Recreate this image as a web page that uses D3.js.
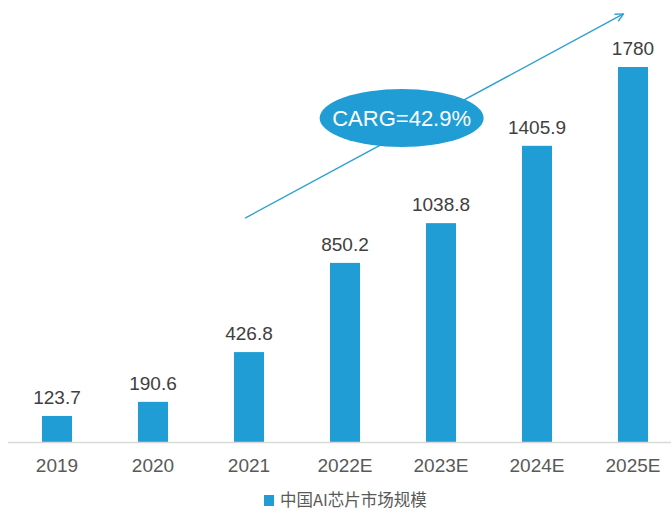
<!DOCTYPE html>
<html>
<head>
<meta charset="utf-8">
<script src="https://cdnjs.cloudflare.com/ajax/libs/d3/7.8.5/d3.min.js"></script>
<style>
    body { margin: 0; background: #fff; }
    text { font-family: "Liberation Sans", Arial, sans-serif; }
</style>
</head>
<body>
<div id="chart"></div>
<script>
// 中国AI芯片市场规模 (亿元)
var categories = ["2019", "2020", "2021", "2022E", "2023E", "2024E", "2025E"];
var values = [123.7, 190.6, 426.8, 850.2, 1038.8, 1405.9, 1780];
var valueLabels = ["123.7", "190.6", "426.8", "850.2", "1038.8", "1405.9", "1780"];
var seriesName = "中国AI芯片市场规模";
var cagrText = "CARG=42.9%";

// annotation anchors in data units (category index, value)
var arrowFrom = [1.96, 1063];
var arrowTo = [5.9, 2032];
var bubbleAt = [3.59, 1538];

var chart = (function () {
    var width = 671, height = 511;
    var blue = "#1f9dd4";

    return {
        draw: function (placement) {
            d3.select(placement).html("");
            var svg = d3.select(placement).append("svg")
                .attr("width", width)
                .attr("height", height);

            var x = d3.scaleBand()
                .domain(categories)
                .range([9, 681])
                .paddingInner(0.6875)
                .paddingOuter(0.34375);

            var xi = d3.scaleLinear()
                .domain([0, categories.length - 1])
                .range([x(categories[0]) + x.bandwidth() / 2,
                        x(categories[categories.length - 1]) + x.bandwidth() / 2]);

            var y = d3.scaleLinear()
                .domain([0, 1780])
                .range([442, 67]);

            var data = categories.map(function (c, i) {
                return {cat: c, value: values[i], label: valueLabels[i]};
            });

            // bars
            svg.selectAll("rect.bar")
                .data(data)
                .enter().append("rect")
                .attr("class", "bar")
                .attr("x", function (d) { return x(d.cat); })
                .attr("y", function (d) { return y(d.value); })
                .attr("width", x.bandwidth())
                .attr("height", function (d) { return y(0) - y(d.value); })
                .style("fill", blue);

            // value labels
            svg.selectAll("text.val")
                .data(data)
                .enter().append("text")
                .attr("class", "val")
                .attr("x", function (d) { return x(d.cat) + x.bandwidth() / 2; })
                .attr("y", function (d) { return y(d.value) - 12; })
                .attr("text-anchor", "middle")
                .style("font-size", "19px")
                .style("fill", "#404040")
                .text(function (d) { return d.label; });

            // x axis
            var axis = svg.append("g")
                .attr("transform", "translate(0," + y(0) + ")")
                .call(d3.axisBottom(x).tickSize(0).tickPadding(0));
            axis.select(".domain").remove();
            axis.append("line")
                .attr("x1", 8).attr("x2", width)
                .attr("y1", 0.5).attr("y2", 0.5)
                .style("stroke", "#d9d9d9")
                .style("stroke-width", 1.5);
            axis.selectAll(".tick text")
                .attr("y", 30)
                .attr("dy", null)
                .style("font-family", "'Liberation Sans', Arial, sans-serif")
                .style("font-size", "19px")
                .style("fill", "#595959");

            // growth arrow
            svg.append("defs").append("marker")
                .attr("id", "head")
                .attr("viewBox", "0 0 10 10")
                .attr("refX", 9).attr("refY", 5)
                .attr("markerWidth", 10).attr("markerHeight", 10)
                .attr("markerUnits", "userSpaceOnUse")
                .attr("orient", "auto")
                .append("path")
                .attr("d", "M1,1 L9,5 L1,9")
                .style("fill", "none")
                .style("stroke", "#2fa0d2")
                .style("stroke-width", 1.4);

            svg.append("line")
                .attr("x1", xi(arrowFrom[0])).attr("y1", y(arrowFrom[1]))
                .attr("x2", xi(arrowTo[0])).attr("y2", y(arrowTo[1]))
                .style("stroke", "#2fa0d2")
                .style("stroke-width", 1.4)
                .attr("marker-end", "url(#head)");

            // CAGR bubble
            var bx = xi(bubbleAt[0]), by = y(bubbleAt[1]);
            svg.append("ellipse")
                .attr("cx", bx).attr("cy", by)
                .attr("rx", 82).attr("ry", 29)
                .style("fill", blue);
            svg.append("text")
                .attr("x", bx).attr("y", by)
                .attr("dy", "0.36em")
                .attr("text-anchor", "middle")
                .style("font-size", "22px")
                .style("fill", "#fff")
                .text(cagrText);

            // legend
            var legend = svg.append("g").attr("transform", "translate(264,495)");
            legend.append("rect")
                .attr("width", 10).attr("height", 11)
                .style("fill", blue);
            legend.append("text")
                .attr("x", 16).attr("y", 11)
                .style("font-family", "'Noto Sans CJK SC', sans-serif")
                .style("font-size", "16.5px")
                .style("fill", "#595959")
                .text(seriesName);
        }
    }
})();

chart.draw("#chart");
</script>
</body>
</html>
